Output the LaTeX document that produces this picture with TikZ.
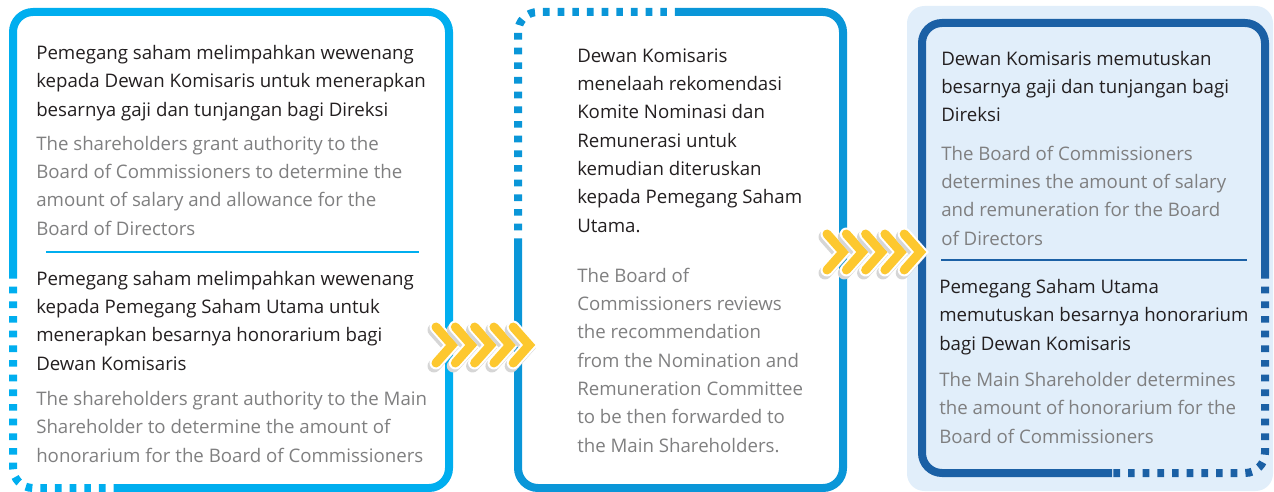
\documentclass[tikz,border=0pt]{standalone}
\usepackage{fontspec}
\setmainfont{Open Sans}
\definecolor{cyanline}{HTML}{00AEEF}
\definecolor{midline}{HTML}{0A96D8}
\definecolor{navyline}{HTML}{1B60A5}
\definecolor{panelbg}{HTML}{E1EEFA}
\definecolor{ink}{HTML}{231F20}
\definecolor{greytext}{HTML}{7F7F80}
\definecolor{chevyellow}{HTML}{FDC82F}
\definecolor{chevshade}{HTML}{D6D6D6}

\begin{document}
\begin{tikzpicture}[
    x=0.75pt, y=-0.75pt,
    boxline/.style={line width=6pt, rounded corners=15pt},
    dashbox/.style={boxline, dash pattern=on 5pt off 6pt},
    idtext/.style={anchor=base west, inner sep=0pt, align=left, text=ink,
      font=\fontsize{14}{21.2}\selectfont},
    entext/.style={idtext, text=greytext},
    chev/.style={line cap=round, line join=miter}]
  \useasboundingbox (0,0) rectangle (1274,492);

  % panel behind the last box
  \fill[panelbg, rounded corners=13pt] (907,6) rectangle (1273,491);

  % box 1
  \draw[boxline, cyanline] (13,272) -- (13,12) -- (449,12) -- (449,488) -- (120,488);
  \draw[dashbox, cyanline] (13,272) -- (13,488) -- (120,488);
  \draw[cyanline, line width=1.5pt] (46,252) -- (419,252);

  % box 2
  \draw[boxline, midline] (680,12) -- (843,12) -- (843,488) -- (518,488) -- (518,245);
  \draw[dashbox, midline] (518,245) -- (518,12) -- (680,12);

  % box 3
  \draw[boxline, navyline] (1265,272) -- (1265,23) -- (922,23) -- (922,473) -- (1112,473);
  \draw[dashbox, navyline] (1265,272) -- (1265,473) -- (1112,473);
  \draw[navyline, line width=1.5pt] (941,260) -- (1247,260);

  % texts, placed at the baseline of their last line
  \node[idtext] (id1) at (36,116) {Pemegang saham melimpahkan wewenang\\
    kepada Dewan Komisaris untuk menerapkan\\besarnya gaji dan tunjangan bagi Direksi};
  \node[entext] (en1) at (36,235) {The shareholders grant authority to the\\
    Board of Commissioners to determine the\\amount of salary and allowance for the\\
    Board of Directors};
  \node[idtext] (id2) at (36,370) {Pemegang saham melimpahkan wewenang\\
    kepada Pemegang Saham Utama untuk\\menerapkan besarnya honorarium bagi\\
    Dewan Komisaris};
  \node[entext] (en2) at (36,462) {The shareholders grant authority to the Main\\
    Shareholder to determine the amount of\\honorarium for the Board of Commissioners};

  \node[idtext] (id3) at (577,232) {Dewan Komisaris\\menelaah rekomendasi\\
    Komite Nominasi dan\\Remunerasi untuk\\kemudian diteruskan\\
    kepada Pemegang Saham\\Utama.};
  \node[entext] (en3) at (577,452) {The Board of\\Commissioners reviews\\
    the recommendation\\from the Nomination and\\Remuneration Committee\\
    to be then forwarded to\\the Main Shareholders.};

  \node[idtext] (id4) at (941,122) {Dewan Komisaris memutuskan\\
    besarnya gaji dan tunjangan bagi\\Direksi};
  \node[entext] (en4) at (941,245) {The Board of Commissioners\\
    determines the amount of salary\\and remuneration for the Board\\of Directors};
  \node[idtext] (id5) at (939,350) {Pemegang Saham Utama\\
    memutuskan besarnya honorarium\\bagi Dewan Komisaris};
  \node[entext] (en5) at (939,443) {The Main Shareholder determines\\
    the amount of honorarium for the\\Board of Commissioners};

  % chevron rows
  \foreach \cx/\cy in {452/345, 843/252}
    \foreach \i in {0,...,4} {
      \begin{scope}[shift={(\cx+19.3*\i,\cy)}]
        \draw[chev, chevshade, line width=9.75pt] (-18,-15) -- (-2,3) -- (-18,21);
        \draw[chev, white, line width=9.75pt] (-16,-18) -- (0,0) -- (-16,18);
        \draw[chev, chevyellow, line width=6.75pt] (-16,-18) -- (0,0) -- (-16,18);
      \end{scope}
    }
\end{tikzpicture}
\end{document}
